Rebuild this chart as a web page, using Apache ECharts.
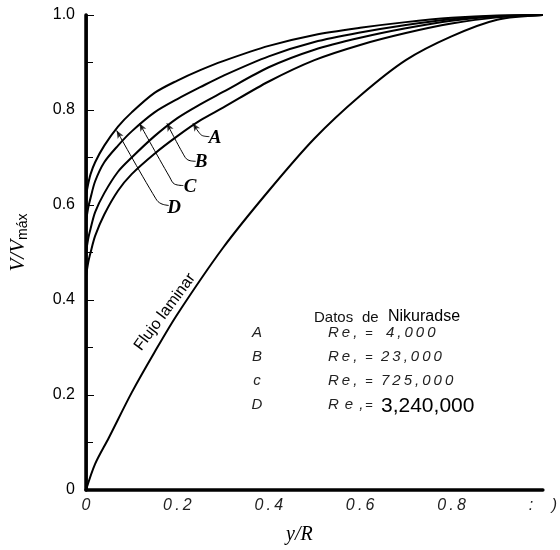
<!DOCTYPE html>
<html><head><meta charset="utf-8">
<script src="https://cdn.jsdelivr.net/npm/echarts@6/dist/echarts.min.js"></script>
<style>html,body{margin:0;padding:0;background:#fff}#c{width:560px;height:550px}</style>
</head><body><div id="c"></div>
<script>
// ---- data ----
const xGrid  = [0, 0.005, 0.01, 0.02, 0.04, 0.07, 0.1, 0.15, 0.2, 0.25, 0.3, 0.4, 0.5, 0.6, 0.7, 0.8, 0.9, 1.0];
const curveA = [0.45, 0.48, 0.50, 0.535, 0.58, 0.63, 0.665, 0.708, 0.745, 0.778, 0.805, 0.86, 0.905, 0.937, 0.962, 0.982, 0.995, 1.0];
const curveB = [0.50, 0.53, 0.55, 0.585, 0.625, 0.67, 0.70, 0.745, 0.783, 0.812, 0.838, 0.89, 0.927, 0.952, 0.972, 0.988, 0.997, 1.0];
const curveC = [0.565, 0.595, 0.615, 0.65, 0.69, 0.725, 0.755, 0.795, 0.823, 0.848, 0.872, 0.913, 0.943, 0.963, 0.979, 0.991, 0.998, 1.0];
const curveD = [0.62, 0.645, 0.665, 0.69, 0.725, 0.765, 0.795, 0.836, 0.862, 0.884, 0.903, 0.935, 0.958, 0.973, 0.985, 0.994, 0.999, 1.0];
const xLam    = [0, 0.02, 0.05, 0.1, 0.15, 0.2, 0.3, 0.4, 0.5, 0.6, 0.7, 0.8, 0.9, 1.0];
const laminar = [0, 0.055, 0.11, 0.205, 0.29, 0.37, 0.51, 0.63, 0.74, 0.83, 0.905, 0.955, 0.99, 1.0];
const xTickLabels = ['0', '0.2', '0.4', '0.6', '0.8', ':  )'];
const yTickLabels = ['0', '0.2', '0.4', '0.6', '0.8', '1.0'];
const curveNames = ['A', 'B', 'C', 'D'];
const legendLetters = ['A', 'B', 'c', 'D'];
const reValues = ['4,000', '23,000', '725,000', '3,240,000'];
// leader lines (data coordinates; first point = arrow tip on the curve)
const leaderA = [[0.234, 0.772], [0.247, 0.753], [0.255, 0.746], [0.270, 0.744]];
const leaderB = [[0.177, 0.772], [0.213, 0.707], [0.223, 0.695], [0.240, 0.692]];
const leaderC = [[0.117, 0.772], [0.183, 0.659], [0.194, 0.644], [0.213, 0.641]];
const leaderD = [[0.067, 0.757], [0.153, 0.613], [0.164, 0.603], [0.181, 0.599]];

// ---- chart ----
const zip = (xs, ys) => xs.map((x, i) => [x, ys[i]]);
const sp = s => s.split('').join('\u2009');
const chart = echarts.init(document.getElementById('c'));
const lineStyle = {color: '#000', width: 2};
const mkLine = (name, xs, ys) => ({
  name, type: 'line', data: zip(xs, ys), showSymbol: false, symbol: 'none',
  smooth: 0.3, lineStyle, silent: true, z: 3
});
const leaders = [leaderA, leaderB, leaderC, leaderD];
const series = [
  mkLine('A', xGrid, curveA), mkLine('B', xGrid, curveB),
  mkLine('C', xGrid, curveC), mkLine('D', xGrid, curveD),
  mkLine('Flujo laminar', xLam, laminar),
  ...leaders.map((c, i) => ({
    name: 'leader ' + curveNames[i], type: 'line', data: c, symbol: 'none', silent: true,
    smooth: 0.4, lineStyle: {color: '#000', width: 1}, z: 4
  })),
  {
    name: 'arrows', type: 'scatter', silent: true, symbol: 'arrow', symbolSize: [5, 8],
    itemStyle: {color: '#000'}, z: 5,
    data: leaders.map(c => ({value: c[0], symbolRotate: 0}))
  }
];
const labelPos = [[215, 138], [201, 162], [190, 187], [174, 208]];
const rowY = [333, 357, 381, 405];
const rowFont = 'italic 15px "Liberation Sans"';
const graphic = [];
curveNames.forEach((n, i) => graphic.push({
  type: 'text', x: labelPos[i][0], y: labelPos[i][1],
  style: {text: n, font: 'italic bold 19px "Liberation Serif"', fill: '#000', align: 'center', verticalAlign: 'middle'}
}));
graphic.push({type: 'text', x: 314, y: 318,
  style: {text: 'Datos', font: '15px "Liberation Sans"', fill: '#111', verticalAlign: 'middle'}});
graphic.push({type: 'text', x: 362, y: 318,
  style: {text: 'de', font: '15px "Liberation Sans"', fill: '#111', verticalAlign: 'middle'}});
graphic.push({type: 'text', x: 388, y: 317,
  style: {text: 'Nikuradse', font: '16px "Liberation Sans"', fill: '#000', verticalAlign: 'middle'}});
legendLetters.forEach((l, i) => {
  graphic.push({type: 'text', x: 257, y: rowY[i],
    style: {text: l, font: rowFont, fill: '#222', align: 'center', verticalAlign: 'middle'}});
  graphic.push({type: 'text', x: 328, y: rowY[i],
    style: {text: i === 3 ? 'R\u2009\u2009e\u2009\u2009,' : sp('Re,'), font: rowFont, fill: '#222', verticalAlign: 'middle'}});
  graphic.push({type: 'text', x: 369, y: rowY[i],
    style: {text: '=', font: '13px "Liberation Sans"', fill: '#222', align: 'center', verticalAlign: 'middle'}});
  graphic.push({type: 'text', x: i === 0 ? 386 : 381, y: rowY[i] + (i === 3 ? 1 : 0),
    style: i === 3
      ? {text: reValues[i], font: '21px "Liberation Sans"', fill: '#000', verticalAlign: 'middle'}
      : {text: sp(reValues[i]), font: rowFont, fill: '#222', verticalAlign: 'middle'}});
});
graphic.push({
  type: 'text', x: 165, y: 312, rotation: 53.5 * Math.PI / 180,
  style: {text: 'Flujo laminar', font: '16px "Liberation Sans"', fill: '#000', align: 'center', verticalAlign: 'middle'}
});

chart.setOption({
  animation: false,
  backgroundColor: '#fff',
  grid: {left: 80, right: 11, top: 15, bottom: 57, containLabel: false},
  xAxis: [{
    type: 'value', min: 0, max: 1, interval: 0.2,
    name: 'y/R', nameLocation: 'middle', nameGap: 35,
    nameTextStyle: {fontFamily: 'Liberation Serif', fontStyle: 'italic', fontSize: 20, color: '#000', padding: [0, 30, 0, 0]},
    axisLine: {show: true, lineStyle: {color: '#000', width: 3.5}},
    axisTick: {show: false}, splitLine: {show: false},
    axisLabel: {
      margin: 8, color: '#222', fontFamily: 'Liberation Sans', fontStyle: 'italic', fontSize: 16,
      formatter: v => sp(xTickLabels[Math.round(v / 0.2)] || '')
    }
  }, {
    type: 'value', min: 0, max: 1, position: 'top',
    axisLine: {show: true, lineStyle: {color: '#000', width: 1}},
    axisTick: {show: false}, axisLabel: {show: false}, splitLine: {show: false}
  }],
  yAxis: [{
    type: 'value', min: 0, max: 1, interval: 0.2,
    name: '{v|V/V}{s|máx}', nameLocation: 'middle', nameGap: 56, nameRotate: 90,
    nameTextStyle: {
      padding: [0, 0, 0, 20],
      rich: {
        v: {fontFamily: 'Liberation Serif', fontStyle: 'italic', fontSize: 21, color: '#000'},
        s: {fontFamily: 'Liberation Sans', fontSize: 14, color: '#000', padding: [9, 0, 0, 0]}
      }
    },
    axisLine: {show: true, lineStyle: {color: '#000', width: 3.5}},
    axisTick: {show: true, inside: true, length: 8, lineStyle: {color: '#000', width: 1}},
    minorTick: {show: true, splitNumber: 2, length: 7, lineStyle: {color: '#000', width: 1}},
    splitLine: {show: false},
    axisLabel: {
      margin: 11, color: '#000', fontFamily: 'Liberation Sans', fontSize: 16,
      formatter: v => yTickLabels[Math.round(v / 0.2)] || ''
    }
  }, {
    type: 'value', min: 0, max: 1, position: 'right',
    axisLine: {show: true, lineStyle: {color: '#000', width: 2.5}},
    axisTick: {show: false}, axisLabel: {show: false}, splitLine: {show: false}
  }],
  series,
  graphic
});
// orient arrowheads along the first segment of each leader (pixel space)
const arrowData = leaders.map(c => {
  const p0 = chart.convertToPixel({gridIndex: 0}, c[0]);
  const p1 = chart.convertToPixel({gridIndex: 0}, c[1]);
  const ang = Math.atan2(p0[0] - p1[0], -(p0[1] - p1[1]));
  return {value: c[0], symbolRotate: -ang * 180 / Math.PI};
});
chart.setOption({series: [{name: 'arrows', data: arrowData}]});
</script></body></html>
